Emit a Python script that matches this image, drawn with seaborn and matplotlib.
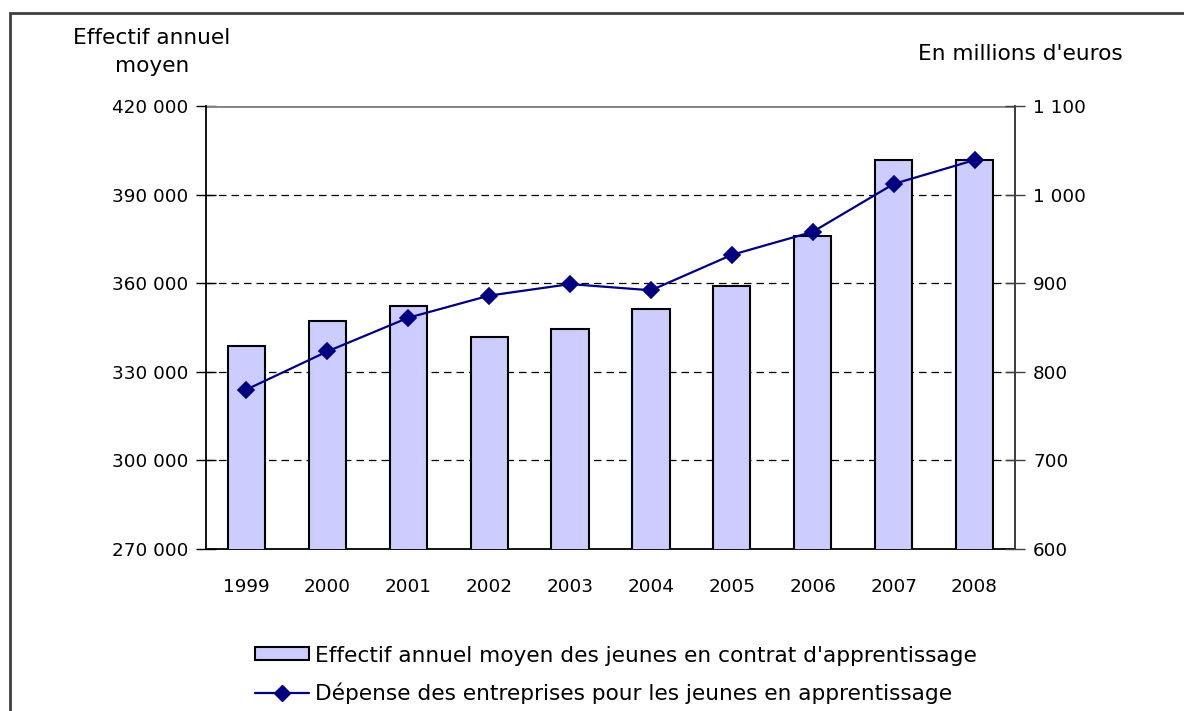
import matplotlib
matplotlib.use("Agg")
import matplotlib.pyplot as plt
import matplotlib.patches as mpatches
import matplotlib.lines as mlines
import pandas as pd
import seaborn as sns

years = ["1999", "2000", "2001", "2002", "2003", "2004", "2005", "2006", "2007", "2008"]
effectif = [338700, 347200, 352400, 341800, 344400, 351100, 359000, 376000, 401600, 401600]
depense = [780, 823, 861, 886, 899, 892, 932, 958, 1012, 1039]

bar_label = "Effectif annuel moyen des jeunes en contrat d'apprentissage"
line_label = "Dépense des entreprises pour les jeunes en apprentissage"

left_ticks = [270000, 300000, 330000, 360000, 390000, 420000]
right_ticks = [600, 700, 800, 900, 1000, 1100]


def fmt(v):
    return f"{v:,}".replace(",", " ")


df = pd.DataFrame({"year": years, "effectif": effectif, "depense": depense})

sns.set_theme(style="white")
plt.rcParams["font.family"] = ["DejaVu Sans"]
plt.rcParams["text.color"] = "black"
plt.rcParams["xtick.color"] = "black"
plt.rcParams["ytick.color"] = "black"
TICK_FS = 13.2
WORD_FS = 15.6

fig = plt.figure(figsize=(11.84, 7.11), dpi=100)
ax = fig.add_axes([206 / 1184, 1 - 549 / 711, 809 / 1184, 443 / 711])

# outer frame, cut at the right and bottom edges as in the source
fig.patches.append(mpatches.Rectangle((10 / 1184, -0.1), 1.2, 1 - 13 / 711 + 0.1,
                                      transform=fig.transFigure, fill=False,
                                      edgecolor="#404040", linewidth=2))

sns.barplot(data=df, x="year", y="effectif", color="#CCCCFF", edgecolor="black",
            linewidth=1.5, width=0.46, saturation=1, ax=ax, zorder=3)
ax.set_ylim(270000, 420000)
ax.set_yticks(left_ticks)
ax.set_yticklabels([fmt(v) for v in left_ticks], fontsize=TICK_FS)
for v in left_ticks[1:-1]:
    ax.axhline(v, color="black", linestyle=(0, (6, 4)), linewidth=0.9, zorder=1)
ax.axhline(420000, color="#808080", linewidth=2, zorder=1)
ax.set_xlabel("")
ax.set_ylabel("")
ax.set_xlim(-0.5, 9.5)
ax.set_xticks(range(len(years)))
ax.set_xticklabels(years, fontsize=TICK_FS)
ax.set_xticks([i + 0.5 for i in range(len(years) - 1)], minor=True)
ax.tick_params(axis="x", which="major", length=0, pad=21)
ax.tick_params(axis="x", which="minor", direction="inout", length=14, width=1, color="#606060")
ax.tick_params(axis="y", direction="inout", length=14, width=1, color="black", pad=6)

ax.spines["top"].set_visible(False)
for s in ["left", "bottom"]:
    ax.spines[s].set_color("black")
    ax.spines[s].set_linewidth(1.3)

ax2 = ax.twinx()
sns.pointplot(data=df, x="year", y="depense", color="#000080", markers="D",
              markersize=8.5, linewidth=1.6, ax=ax2, zorder=5)
ax2.set_ylim(600, 1100)
ax2.set_yticks(right_ticks)
ax2.set_yticklabels([fmt(v) for v in right_ticks], fontsize=TICK_FS)
ax2.set_ylabel("")
ax2.set_xlim(-0.5, 9.5)
ax2.tick_params(axis="y", direction="inout", length=14, width=1, color="#404040", pad=6)
for s in ["top", "left", "bottom"]:
    ax2.spines[s].set_visible(False)
ax2.spines["right"].set_color("#404040")
ax2.spines["right"].set_linewidth(1.3)

fig.text(152 / 1184, 1 - 52 / 711, "Effectif annuel\nmoyen", ha="center", va="center",
         fontsize=WORD_FS, linespacing=1.55)
fig.text(1020 / 1184, 1 - 54 / 711, "En millions d'euros", ha="center", va="center",
         fontsize=WORD_FS)

h_bar = mpatches.Patch(facecolor="#CCCCFF", edgecolor="black", linewidth=1.5)
h_line = mlines.Line2D([], [], color="#000080", marker="D", markersize=8.5, linewidth=1.6)
fig.legend([h_bar, h_line], [bar_label, line_label], loc="center",
           bbox_to_anchor=(616 / 1184, 1 - 675 / 711), frameon=False, fontsize=WORD_FS,
           handlelength=2.5, handleheight=0.55, handletextpad=0.3, labelspacing=0.8,
           borderpad=0)

fig.savefig("out.png", dpi=100)
